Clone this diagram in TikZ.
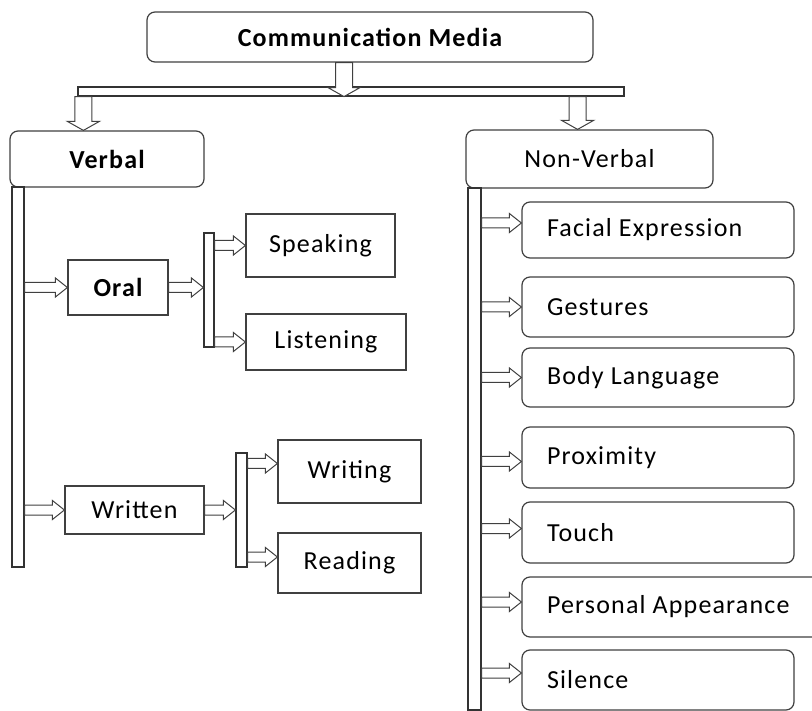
\documentclass[tikz,border=0pt]{standalone}
\usepackage{fontspec}
\setmainfont[LetterSpace=4.5]{Carlito}
\usetikzlibrary{calc}
\newcommand{\lefttext}[2][222pt]{\makebox[#1][l]{#2}}
\begin{document}
\begin{tikzpicture}[x=1pt,y=-1pt]
      \tikzstyle{box}=[draw=black!75, line width=1.2pt, fill=white, inner sep=0pt,
        font=\fontsize{26}{30}\selectfont]
      \tikzstyle{rbox}=[box, rounded corners=8pt]
      \tikzstyle{item}=[rbox, inner xsep=25pt, minimum width=272pt]
      \tikzstyle{bar}=[draw=black!80, line width=1.2pt, fill=white, inner sep=0pt]
      \tikzset{
        hollow/.style n args={3}{to path={
          let \p1=($(\tikztotarget)!#3!(\tikztostart)$) in
          ($(\tikztostart)!#1!90:(\tikztotarget)$) -- ($(\p1)!#1!90:(\tikztotarget)$)
          -- ($(\p1)!#2!90:(\tikztotarget)$) -- (\tikztotarget)
          -- ($(\p1)!#2!-90:(\tikztotarget)$) -- ($(\p1)!#1!-90:(\tikztotarget)$)
          -- ($(\tikztostart)!#1!-90:(\tikztotarget)$) -- cycle}},
        harrow/.style={hollow={5pt}{9.5pt}{12pt}, draw=black!75, fill=white, line width=1pt},
        varrow/.style={hollow={8.5pt}{16pt}{9pt}, draw=black!75, fill=white, line width=1pt}
      }
      \useasboundingbox (0,0) rectangle (812,711);

      % top level
      \node[rbox, minimum width=446pt, minimum height=50pt, font=\fontsize{26}{30}\selectfont\bfseries] (media) at (370,37) {Communication Media};
      \node[bar, minimum width=546pt, minimum height=9pt] (hbar) at (351,91.5) {};
      \node[rbox, minimum width=194pt, minimum height=56pt, font=\fontsize{26}{30}\selectfont\bfseries] (verbal) at (107,159) {Verbal};
      \node[rbox, minimum width=247pt, minimum height=58pt] (nonverbal) at (589.5,159) {Non-Verbal};

      % verbal side
      \node[bar, minimum width=12pt, minimum height=380pt] (vbar) at (18,377) {};
      \node[box, minimum width=100pt, minimum height=55pt, font=\fontsize{26}{30}\selectfont\bfseries] (oral) at (118,287.5) {Oral};
      \node[bar, minimum width=10pt, minimum height=114pt] (obar) at (209,290) {};
      \node[box, minimum width=149pt, minimum height=63pt] (speaking) at (320.5,245.5) {Speaking};
      \node[box, minimum width=160pt, minimum height=56pt] (listening) at (326,342) {Listening};
      \node[box, minimum width=139pt, minimum height=48pt] (written) at (134.5,510) {Written};
      \node[bar, minimum width=11pt, minimum height=114pt] (wbar) at (241.5,510) {};
      \node[box, minimum width=143pt, minimum height=63pt] (writing) at (349.5,471.5) {Writing};
      \node[box, minimum width=143pt, minimum height=60pt] (reading) at (349.5,563) {Reading};

      % non-verbal side
      \node[bar, minimum width=13pt, minimum height=522pt] (nvbar) at (474.5,449) {};
      \node[item, minimum height=56pt] (facial) at (658,230) {\lefttext{Facial Expression}};
      \node[item, minimum height=60pt] (gestures) at (658,307) {\lefttext{Gestures}};
      \node[item, minimum height=59pt] (body) at (658,377.5) {\lefttext{Body Language}};
      \node[item, minimum height=61pt] (proximity) at (658,457.5) {\lefttext{Proximity}};
      \node[item, minimum height=61pt] (touch) at (658,532.5) {\lefttext{Touch}};
      \node[item, minimum height=60pt] (personal) at (677,607) {\lefttext[260pt]{Personal Appearance}};
      \node[item, minimum height=60pt] (silence) at (658,680) {\lefttext{Silence}};

      % arrows
      \coordinate (mjoin) at ([xshift=-26pt]media.south);
      \coordinate (vjoin) at ([xshift=6pt]hbar.south west);
      \coordinate (njoin) at ([xshift=-47pt]hbar.south east);
      \draw[varrow] (mjoin) to (mjoin |- hbar.south);
      \draw[varrow] (vjoin) to (vjoin |- verbal.north);
      \draw[varrow] (njoin) to (njoin |- nonverbal.north);

      \draw[harrow] (vbar.east |- oral.west) to (oral.west);
      \draw[harrow] (oral.east) to (oral.east -| obar.west);
      \draw[harrow] (obar.east |- speaking.west) to (speaking.west);
      \draw[harrow] (obar.east |- listening.west) to (listening.west);
      \draw[harrow] (vbar.east |- written.west) to (written.west);
      \draw[harrow] (written.east) to (written.east -| wbar.west);
      \draw[harrow] ([yshift=8pt]wbar.east |- writing.west) to ([yshift=8pt]writing.west);
      \draw[harrow] ([yshift=6pt]wbar.east |- reading.west) to ([yshift=6pt]reading.west);

      \draw[harrow] ([yshift=7pt]nvbar.east |- facial.west) to ([yshift=7pt]facial.west);
      \draw[harrow] (nvbar.east |- gestures.west) to (gestures.west);
      \draw[harrow] (nvbar.east |- body.west) to (body.west);
      \draw[harrow] ([yshift=-4pt]nvbar.east |- proximity.west) to ([yshift=-4pt]proximity.west);
      \draw[harrow] ([yshift=4pt]nvbar.east |- touch.west) to ([yshift=4pt]touch.west);
      \draw[harrow] ([yshift=5pt]nvbar.east |- personal.west) to ([yshift=5pt]personal.west);
      \draw[harrow] ([yshift=7pt]nvbar.east |- silence.west) to ([yshift=7pt]silence.west);
\end{tikzpicture}
\end{document}
